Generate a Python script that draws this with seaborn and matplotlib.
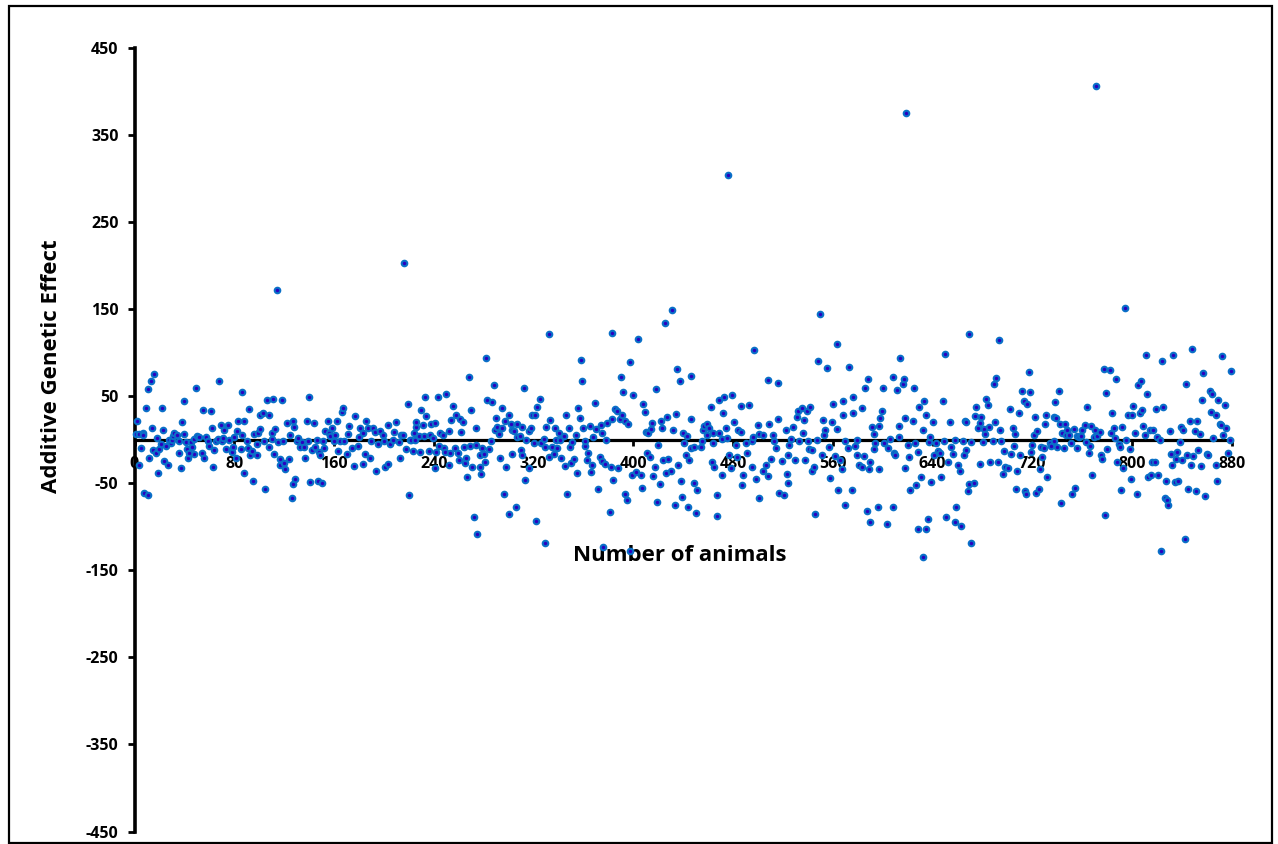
import matplotlib
matplotlib.use("Agg")
import matplotlib.pyplot as plt
from matplotlib.patches import Rectangle
import pandas as pd
import seaborn as sns

# animal number, additive genetic effect, by stretch of the x axis
x_a = [2,1,4,7,7,5,4,8,11,12,9,11,13,16,14,18,15,17,20,21,19,22,23,24,27,25,28,29,30,31,32,34,36,36,37,38,40,40,41,42,43,45,46,48,44,48,50,52,49,54,56,55,57,59,60,61,62,63,64,65,67,68,69,70,71,72,73,75,76,78,79,80,81,82,83,85,86,86,88,88,90,91,92,93,94,95,96,98,98,99,101,101,103,104,105,106,108,108,110,110,111,112,113,114,115,117,117,118,119,120,121,122,124,125,126,127,127,128,129,130,131,133,134,136,137,138,139,140,141,142,144,145,146,147,148,149,150,151,152,153,155,156,157,158,160,161,162,163,165,166,167,168,170,171,172,174,176,177,179,180,181,183,183,185,186,187,189,190,191,193,194,195,197,199,200,201,203,203,205,207,208,210,212,213,214,216]
y_a = [21,7,7,8,5,-10,-29,-61,-64,-21,36,58,67,75,13,2,-12,-15,-11,-5,-38,36,11,-24,-29,-7,0,-4,0,4,8,5,-2,-15,-32,20,44,7,-3,-11,-21,-3,-8,-16,-15,1,4,3,59,-15,-21,34,3,-2,-7,33,13,-31,-12,-2,1,67,17,-2,2,11,-11,17,0,-14,-8,3,-21,10,21,-11,6,55,22,-38,-2,-9,35,-17,-13,-47,7,-5,-17,8,12,28,31,-2,-57,46,-8,29,1,8,47,-16,12,172,-3,-22,-29,46,-2,-27,-34,19,-22,6,-67,22,-51,15,-45,-2,2,-8,-3,-8,-21,22,-1,49,-48,-12,19,-8,0,-47,-14,-18,-50,-1,-10,10,21,8,4,13,-2,5,21,-13,-1,32,36,-1,-16,7,16,-10,-30,27,-7,3,13,8,-28,-16,22,14,-21,-2,14,9,-36,-5,10,6,-2,-31,17,-28,-5,0,9,20,-3,-21,6,203]

x_b = [218,219,220,221,223,215,222,224,225,226,226,228,229,230,231,232,233,234,236,237,238,239,241,241,242,243,244,245,247,248,249,250,252,252,253,254,255,257,258,259,260,261,262,263,264,265,266,267,268,269,270,271,272,274,274,275,277,277,278,279,280,281,282,283,284,286,287,288,289,290,291,292,293,295,295,296,297,298,300,300,302,303,303,304,306,307,307,309,310,311,311,312,313,314,316,316,318,319,320,321,322,323,325,326,328,329,329,330,332,332,333,335,336,337,338,339,340,341,342,344,345,346,347,348,349,350,351,352,354,355,356,357,358,359,360,361,361,363,364,365,366,367,368,369,370,372,373,374,375,375,376,377,378,379,381,382,383,383,384,385,387,388,389,390,391,392,393,393,395,396,397,397,399,400,402,404,406,407,408,409,410,411,412,413,414,415,416,417,418,419,420,421,422,423,424,425,426,427,428,430,431,432,433,434,436,435,437,438,439,440,441,442,443,444,445,446,446,446]
y_b = [-11,41,-64,0,-13,6,0,8,0,15,20,4,-14,34,17,4,49,27,-13,6,18,2,19,-33,-14,49,-7,8,6,-9,-14,52,-29,10,-15,23,39,-9,29,-15,-23,24,9,20,-8,-27,-21,-43,72,-7,34,-31,-89,-6,13,-108,-31,-18,-39,-10,-16,-26,94,46,-11,-1,43,63,11,25,15,7,-21,13,37,-62,22,-31,29,-85,18,-16,11,10,-77,18,3,4,-12,15,-18,59,-46,0,-33,10,13,29,-4,29,-93,38,47,-4,1,-8,-119,15,122,-20,23,-8,-16,13,0,-10,8,0,-21,4,-30,28,-62,13,-8,-27,-3,-22,6,-38,36,25,92,67,13,-7,-2,-23,-15,16,-37,-29,3,42,12,-57,-20,17,8,-24,-123,-28,0,19,-83,-31,123,24,-46,35,33,-33,24,72,29,55,21,-62,-69,18,89,-128,-41,51,-37,116,-41,-55,41,32,9,-15,8,-20,12,19,-42,-31,58,-72,-6,-51,21,14,-23,134,-38,26,-22,-36,149,11,-75,30,-29,81,67,-47,-66,8,-4,-18,4,-77,-23,73,24,-10]

x_c = [449,449,451,450,454,455,456,457,459,459,461,462,463,464,464,465,467,467,469,469,471,471,472,473,474,475,476,477,478,479,481,482,483,484,486,486,487,488,490,491,493,495,495,496,497,498,500,501,501,504,504,506,508,508,509,510,512,513,514,516,516,517,519,521,522,523,524,524,526,525,528,530,531,532,533,535,536,537,538,539,540,541,542,543,543,545,546,547,548,550,551,552,554,553,555,557,558,559,560,562,563,563,564,566,567,568,568,570,570,572,573,575,576,576,578,579,579,581,583,583,585,586,587,588,589,590,590,591,593,593,594,596,597,597,598,599,600,601,603,604,606,608,608,609,610,611,613,613,614,616,617,618,618,619,621,620,622,624,625,626,627,628,628,629,631,632,632,633,635,635,636,637,638,639,640,641,643,644,646,647,648,649,650,651,652,654,655,656,658,658,659,660,662,663,664,665,666,667,667,668,669,669,671,671]
y_c = [-50,-8,-58,-84,-8,-2,11,16,6,18,13,38,-25,8,-4,-31,-88,-64,8,46,1,-40,31,49,14,2,304,-18,-33,51,20,-6,-20,11,9,39,-52,-41,-4,-15,40,-2,-31,3,103,-45,17,7,-67,5,-36,-29,69,-42,18,-22,6,-2,-10,65,24,-61,-24,-64,11,-39,-18,-50,1,-6,15,-23,26,33,-2,37,8,23,-23,33,-1,-11,38,-12,-36,-31,-85,0,90,144,-17,23,11,6,82,-8,-44,20,41,-19,12,110,-58,-23,-34,45,28,-75,-2,-10,83,-58,49,31,-7,0,-17,-29,37,-31,-19,59,-82,70,-34,-26,-95,15,-11,7,-4,-77,-34,16,25,33,60,-4,-97,-10,1,-77,72,-15,-17,57,3,16,94,64,70,-33,25,375,-20,-6,-58,21,60,-4,-52,-102,-14,38,-43,11,-135,44,-103,29,-91,-3,3,-48,20,-17,-4,-13,-15,-43,45,-2,98,-89,-25,20,-8,-16,0,-95,-77,-29,-36,-99,-1,-18,22,-12,20,-59,122,-51,-119,-3]

x_d = [673,674,675,676,678,678,679,680,681,682,683,684,685,686,688,689,690,691,692,693,694,695,696,697,698,700,702,703,704,705,706,707,708,709,710,712,713,714,715,716,717,718,719,720,721,722,723,724,725,726,727,728,729,730,731,732,734,735,737,737,739,738,740,741,742,743,744,745,746,747,748,749,751,752,753,754,756,756,757,759,760,762,763,764,765,766,767,768,769,770,771,772,774,775,776,777,778,779,780,782,783,784,785,786,787,788,789,790,791,792,793,794,797,795,798,799]
y_d = [-50,27,38,13,-28,19,26,-3,12,7,47,40,15,-26,-1,64,20,71,-25,115,11,-2,-39,-13,-31,-33,35,-16,13,-7,7,-57,-36,31,-18,56,45,-59,-62,41,78,55,-14,-6,6,26,-61,10,-56,-34,-8,-20,-10,18,28,-43,-4,-7,-2,26,25,43,-8,56,18,-73,8,-10,18,6,11,6,-4,-62,12,-55,4,-9,3,4,11,17,-3,38,-15,-7,16,-41,3,11,406,4,9,-17,-22,81,-86,54,-11,80,8,31,13,2,70,-26,-5,-8,-58,15,-33,151,29,0,-11,-45]

x_e = [800,801,802,804,805,806,807,808,809,810,811,812,813,814,815,816,817,818,819,820,821,822,823,824,825,826,827,828,829,830,831,832,833,834,835,836,837,838,839,840,841,842,843,844,845,846,847,848,849,850,851,852,853,854,855,856,857,858,860,861,862,863,864,865,867,867,868,869,870,871,872,873,874,875,877,878,879]
y_e = [28,39,8,-62,63,31,68,34,16,6,97,53,-43,11,-40,-25,11,-26,35,3,-40,0,-128,90,38,-67,-47,-69,-75,10,-16,-29,97,-49,-22,-14,-47,-3,15,-23,11,-114,64,-17,-57,21,-29,104,-19,10,-59,21,-12,7,-30,46,77,-65,-16,-18,56,32,53,2,-29,28,-47,46,18,17,96,5,40,14,-15,0,79]

x_ticks = [0, 80, 160, 240, 320, 400, 480, 560, 640, 720, 800, 880]
y_ticks = [-450, -350, -250, -150, -50, 50, 150, 250, 350, 450]

df = pd.DataFrame({
    "animal": x_a + x_b + x_c + x_d + x_e,
    "effect": y_a + y_b + y_c + y_d + y_e,
})

sns.set_theme(style="white")
plt.rcParams["font.family"] = ["Open Sans", "DejaVu Sans"]
plt.rcParams["axes.unicode_minus"] = False

W, H = 1278, 844
fig = plt.figure(figsize=(W / 100, H / 100), dpi=100)
ax = fig.add_axes([134.5 / W, 1 - 831.5 / H, 1097.5 / W, 783.5 / H])
ax.patch.set_alpha(0)

sns.scatterplot(data=df, x="animal", y="effect", ax=ax, s=16, color="#2A00C0",
                edgecolor="#0A70C8", linewidth=1.5, clip_on=False, zorder=3)

ax.set_xlim(0, 880)
ax.set_ylim(-450, 450)
ax.set_xticks(x_ticks)
ax.set_yticks(y_ticks)
for s in ("top", "right"):
    ax.spines[s].set_visible(False)
ax.spines["bottom"].set_position(("data", 0))
ax.spines["bottom"].set_linewidth(2.3)
ax.spines["left"].set_linewidth(2.6)
ax.spines["bottom"].set_color("black")
ax.spines["left"].set_color("black")
ax.spines["bottom"].set_zorder(2)

ax.tick_params(axis="x", bottom=True, direction="out", length=4, width=2, color="black",
               pad=8, labelsize=11.5, labelcolor="black")
ax.tick_params(axis="y", left=True, direction="out", length=5, width=2, color="black",
               pad=6.5, labelsize=11.5, labelcolor="black")
for lab in ax.get_xticklabels() + ax.get_yticklabels():
    lab.set_fontweight("bold")
for lab in ax.get_xticklabels():
    lab.set_zorder(1)

ax.set_xlabel("Number of animals", fontsize=16, fontweight="bold", color="black")
ax.xaxis.set_label_coords(0.4965, 0.352)
ax.xaxis.label.set_va("center")
ax.set_ylabel("Additive Genetic Effect", fontsize=16, fontweight="bold", color="black")
ax.yaxis.set_label_coords(-0.0755, 0.594)
ax.yaxis.label.set_va("center")

fig.add_artist(Rectangle((8.5 / W, 1 - 843 / H), 1263.5 / W, 837 / H, transform=fig.transFigure,
                         fill=False, edgecolor="black", linewidth=1.6))

fig.savefig("out.png", dpi=100)
